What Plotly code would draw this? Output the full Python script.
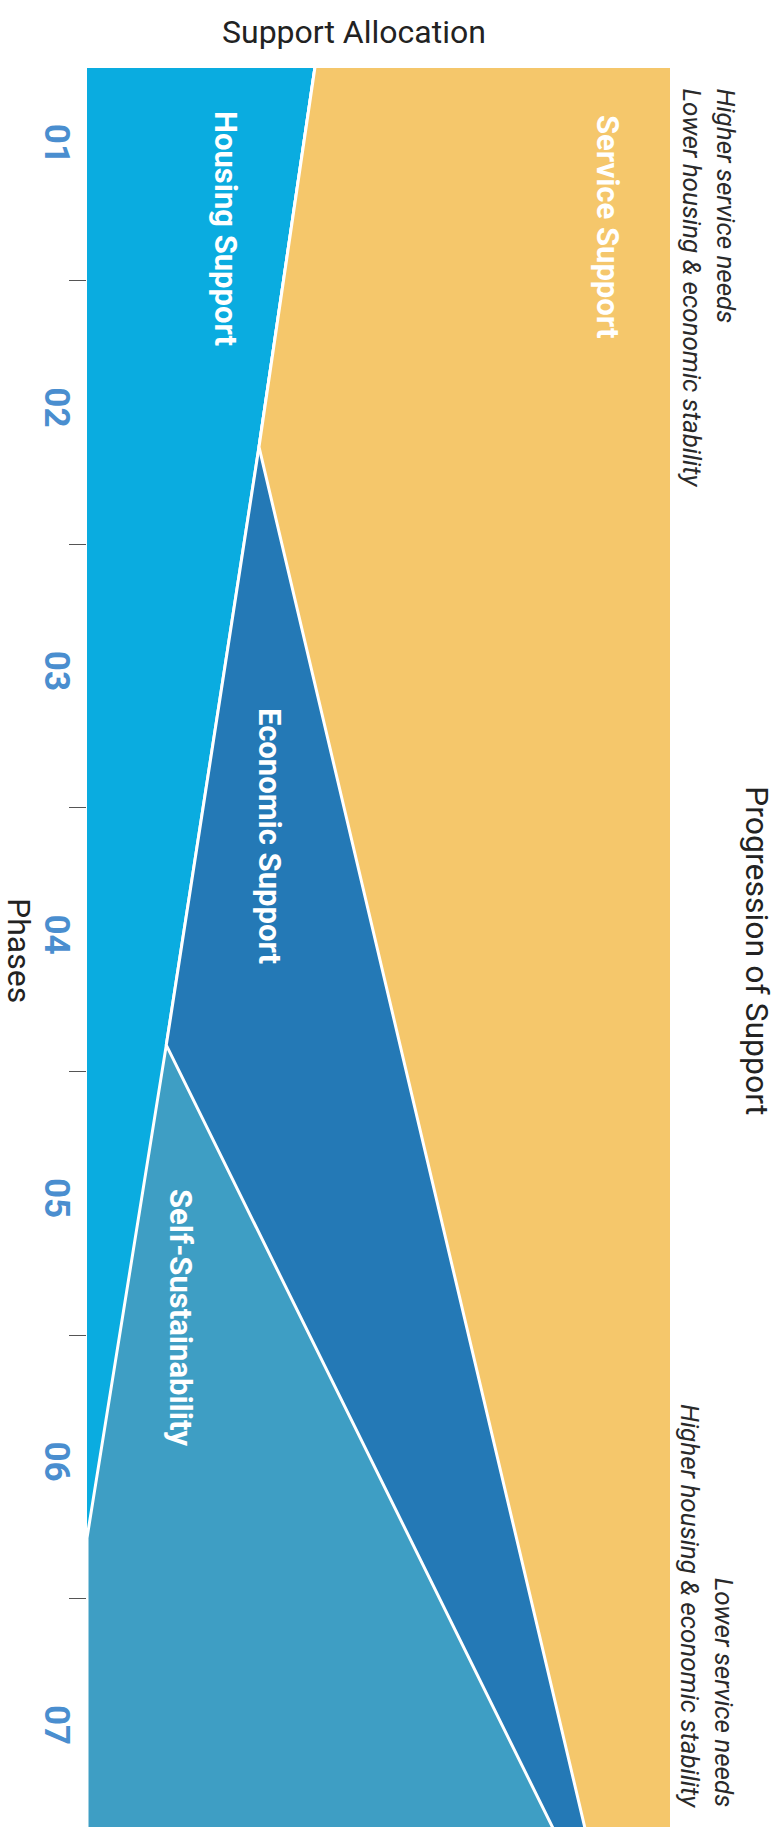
import plotly.graph_objects as go

# ---- data ----
phase_ticks = [1, 2, 3, 4, 5, 6, 7]
phase_labels = ["01", "02", "03", "04", "05", "06", "07"]
# phase positions where the allocation shares change slope
breakpoints = [0.69, 2.13, 4.40, 6.27, 7.37]
housing = [39.1, 29.5, 13.6, 0.0, 0.0]
self_sustainability = [0.0, 0.0, 0.0, 55.3, 79.9]
economic = [0.0, 0.0, 40.1, 18.4, 5.5]
service = [60.9, 70.5, 46.3, 26.3, 14.6]

series_names = ["Housing Support", "Self-Sustainability", "Economic Support", "Service Support"]
series_values = [housing, self_sustainability, economic, service]
series_colors = ["#0AACE0", "#3E9EC4", "#2479B6", "#F5C76B"]

# ---- layout geometry ----
W, H = 778, 1835
L, R, T, B = 87, 670, 68, 1827


def px_x(x):
    return (x - L) / (R - L)


def px_y(y):
    return (B - y) / (B - T)


fig = go.Figure()
for i, (name, vals, col) in enumerate(zip(series_names, series_values, series_colors)):
    fig.add_trace(go.Scatter(
        x=vals, y=breakpoints, name=name, mode="lines",
        stackgroup="alloc", orientation="h" if i == 0 else None,
        fillcolor=col,
        line=dict(color="white", width=3 if i < 3 else 0),
        hoverinfo="skip", showlegend=False,
    ))

FONT = "Roboto"
label_font = dict(family=FONT, size=31, color="white", weight="bold")
area_labels = [
    ("Housing Support", 226, 228),
    ("Service Support", 607, 226),
    ("Economic Support", 270, 836),
    ("Self-Sustainability", 181, 1318),
]
annotations = []
for text, x, y in area_labels:
    annotations.append(dict(text=text, x=px_x(x), y=px_y(y), xref="paper", yref="paper",
                            textangle=90, showarrow=False, font=label_font,
                            xanchor="center", yanchor="middle"))

title_font = dict(family=FONT, size=32, color="#222222")
note_font = dict(family=FONT, size=26, color="#2a2a2a", style="italic")
annotations += [
    dict(text="Support Allocation", x=px_x(354), y=px_y(32), xref="paper", yref="paper",
         showarrow=False, font=title_font, xanchor="center", yanchor="middle"),
    dict(text="Progression of Support", x=px_x(757), y=px_y(950), xref="paper", yref="paper",
         textangle=90, showarrow=False, font=title_font, xanchor="center", yanchor="middle"),
    dict(text="Phases", x=px_x(19), y=px_y(950), xref="paper", yref="paper",
         textangle=90, showarrow=False, font=title_font, xanchor="center", yanchor="middle"),
    dict(text="Higher service needs<br>Lower housing & economic stability",
         x=px_x(709), y=px_y(86), xref="paper", yref="paper", textangle=90,
         showarrow=False, align="left", font=note_font,
         xanchor="center", yanchor="top"),
    dict(text="Lower service needs<br>Higher housing & economic stability",
         x=px_x(707), y=px_y(1810), xref="paper", yref="paper", textangle=90,
         showarrow=False, align="right", font=note_font,
         xanchor="center", yanchor="bottom"),
]

fig.update_layout(
    width=W, height=H,
    margin=dict(l=L, r=W - R, t=T, b=H - B),
    paper_bgcolor="white", plot_bgcolor="white",
    annotations=annotations,
    xaxis=dict(range=[0, 100], visible=False, fixedrange=True),
    yaxis=dict(
        range=[7.367, 0.692], tickvals=phase_ticks, ticktext=phase_labels,
        tickangle=90, ticks="", showgrid=False, zeroline=False, showline=False,
        tickfont=dict(family=FONT, size=35, color="#4A8ECF", weight="bold"),
        ticklabelstandoff=6,
        minor=dict(tickvals=[1.5, 2.5, 3.5, 4.5, 5.5, 6.5], ticks="outside",
                   ticklen=17, tickwidth=1, tickcolor="#555555", showgrid=False),
        fixedrange=True,
    ),
)

fig.write_html("out.html")
